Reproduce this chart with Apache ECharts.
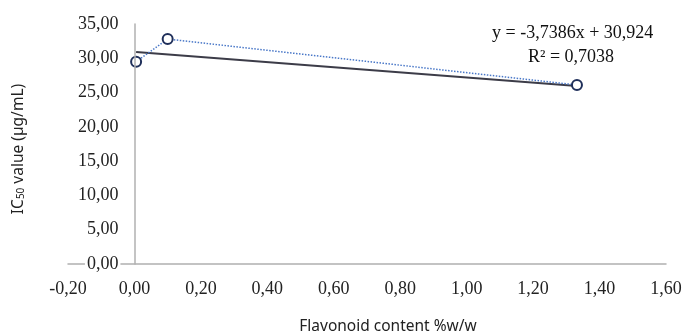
<!DOCTYPE html>
<html>
<head>
<meta charset="utf-8">
<script src="https://cdn.jsdelivr.net/npm/echarts@6/dist/echarts.min.js"></script>
<style>html,body{margin:0;padding:0;background:#fff;}#c{width:697px;height:336px;}</style>
</head>
<body>
<div id="c"></div>
<script>
// Data
const flavonoidX = [0.005, 0.10, 1.332];
const ic50Y = [29.5, 32.8, 26.1];
const trendSlope = -3.7386;
const trendIntercept = 30.924;
const trendR2 = 0.7038;
const xTicks = { min: -0.2, max: 1.6, interval: 0.2 };
const yTicks = { min: 0, max: 35, interval: 5 };

const fmt = v => v.toFixed(2).replace('.', ',');
const points = flavonoidX.map((x, i) => [x, ic50Y[i]]);
const xMin = Math.min(...flavonoidX), xMax = Math.max(...flavonoidX);
const trend = [xMin, xMax].map(x => [x, trendSlope * x + trendIntercept]);
const eqText = 'y = ' + trendSlope.toFixed(4).replace('.', ',') + 'x + ' + trendIntercept.toFixed(3).replace('.', ',');
const r2Text = 'R² = ' + trendR2.toFixed(4).replace('.', ',');

const gridLeft = 68, gridRight = 31;
const plotW = 697 - gridLeft - gridRight;
const yAxisShift = -plotW * (0 - xTicks.min) / (xTicks.max - xTicks.min);

const chart = echarts.init(document.getElementById('c'));
const serif = '"Liberation Serif", "DejaVu Serif", serif';
const sans = '"Noto Sans", sans-serif';
chart.setOption({
  animation: false,
  grid: { left: gridLeft, right: gridRight, top: 24, bottom: 72, containLabel: false, outerBoundsMode: 'none' },
  xAxis: {
    type: 'value', min: xTicks.min, max: xTicks.max, interval: xTicks.interval,
    axisLine: { onZero: false, lineStyle: { color: '#b0b0b0', width: 1.5 } },
    axisTick: { show: false },
    splitLine: { show: false },
    axisLabel: { formatter: fmt, fontFamily: serif, fontSize: 18, color: '#222', margin: 16 },
    name: 'Flavonoid content %w/w', nameLocation: 'middle', nameGap: 55,
    nameTextStyle: { fontFamily: sans, fontSize: 15.5, color: '#222', padding: [0, 0, 0, 42] }
  },
  yAxis: {
    type: 'value', min: yTicks.min, max: yTicks.max, interval: yTicks.interval,
    offset: yAxisShift, z: 5,
    axisLine: { show: true, onZero: false, lineStyle: { color: '#b0b0b0', width: 1.5 } },
    axisTick: { show: false },
    splitLine: { show: false },
    axisLabel: { formatter: fmt, fontFamily: serif, fontSize: 18, color: '#222', margin: 14,
      backgroundColor: '#fff', padding: [0, 2, 0, 2] },
    name: 'IC{sub|50} value (µg/mL)', nameLocation: 'middle', nameGap: 108,
    nameTextStyle: { fontFamily: sans, fontSize: 15.5, color: '#222', padding: [0, 10, 0, 0],
      rich: { sub: { fontFamily: sans, fontSize: 10, color: '#222', padding: [6, 0, 0, 0] } } }
  },
  series: [
    {
      type: 'line', data: trend, symbol: 'none', z: 2,
      lineStyle: { color: '#3c3c48', width: 2 }
    },
    {
      type: 'line', data: points, symbol: 'emptyCircle', symbolSize: 10, z: 3,
      lineStyle: { color: '#4a78c8', width: 1.5, type: 'dotted' },
      itemStyle: { color: '#1f2f5a', borderColor: '#1f2f5a', borderWidth: 2 }
    }
  ],
  graphic: [
    { type: 'text', left: 492, top: 24, style: { text: eqText, font: '18px ' + serif, fill: '#111' } },
    { type: 'text', left: 528, top: 48, style: { text: r2Text, font: '18px ' + serif, fill: '#111' } }
  ]
});
</script>
</body>
</html>
